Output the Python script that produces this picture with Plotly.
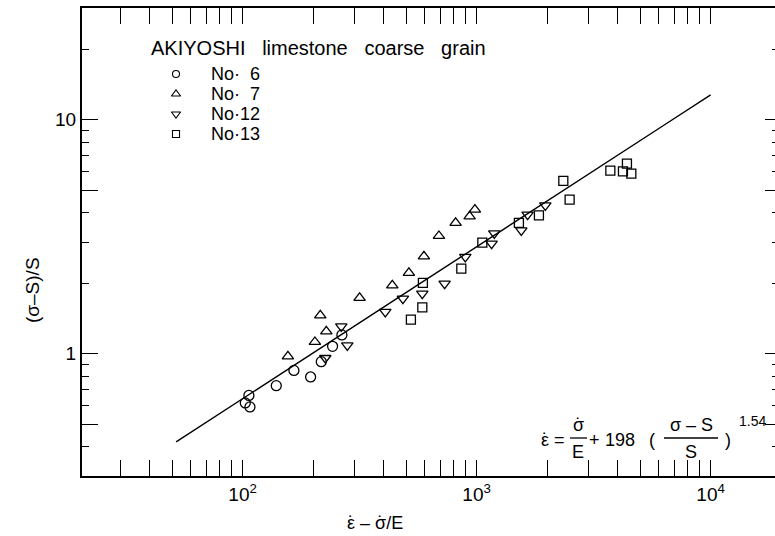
import numpy as np
import plotly.graph_objects as go

# ---- measured data: x = eps_dot - sigma_dot/E, y = (sigma - S)/S ----
no6_x = [106.4, 102.7, 107.5, 139.3, 165.7, 195.3, 216.9, 242.4, 265.7]
no6_y = [0.663, 0.616, 0.592, 0.730, 0.848, 0.795, 0.924, 1.075, 1.202]

no7_x = [156.2, 203.7, 214.8, 227.9, 316.2, 436.2, 513.6, 595.5, 690.2, 813.4, 933.4, 983.4]
no7_y = [0.974, 1.122, 1.458, 1.245, 1.730, 1.958, 2.213, 2.605, 3.184, 3.619, 3.863, 4.125]

no12_x = [225.6, 264.1, 280.2, 407.2, 484.2, 586.1, 729.8, 894.7, 1159, 1190, 1552, 1652, 1966]
no12_y = [0.958, 1.308, 1.085, 1.507, 1.718, 1.805, 1.991, 2.590, 2.952, 3.267, 3.365, 3.927, 4.303]

no13_x = [523.8, 586.1, 589.5, 860.2, 1058, 1516, 1846, 2347, 2497, 3728, 4220, 4389, 4582]
no13_y = [1.398, 1.577, 2.005, 2.308, 2.981, 3.619, 3.899, 5.47, 4.551, 6.055, 6.013, 6.486, 5.877]

series_names = ["No·\u00a0\u00a06", "No·\u00a0\u00a07", "No·12", "No·13"]
series_symbols = ["circle-open", "triangle-up-open", "triangle-down-open", "square-open"]
series_sizes = [10, 10, 10, 9]
legend_sizes = [7, 8, 8, 7]

# fitted law: eps_dot = sigma_dot/E + A * ((sigma - S)/S)^n
A_coef = 198
n_exp = 1.54
fit_x_start, fit_x_end = 52, 1e4

# axis ticks: labelled decades, long unlabelled ticks at 5, short ticks elsewhere
x_decades = [100, 1000, 10000]
x_decade_text = ["10<sup>2</sup>", "10<sup>3</sup>", "10<sup>4</sup>"]
x_fives = [50, 500, 5000]
x_minor = [30, 40, 60, 70, 80, 90, 200, 300, 400, 600, 700, 800, 900,
           2000, 3000, 4000, 6000, 7000, 8000, 9000]
y_decades = [1, 10]
y_decade_text = ["1", "10"]
y_fives = [0.5, 5]
y_minor = [0.4, 0.6, 0.7, 0.8, 0.9, 2, 3, 4, 6, 7, 8, 9, 20]

FONT = "Liberation Sans, Arial, sans-serif"
W, H = 775, 536
ML, MR, MT, MB = 82, 0, 8, 60
PW, PH = W - ML - MR, H - MT - MB
X_RANGE = [np.log10(20) + 3 / 234, 4.275]
Y_RANGE = [np.log10(0.3), np.log10(30)]


def with_dot(ch, size):
    """Letter with a time-derivative dot drawn over it (dot kerned back onto the letter)."""
    adv = {"\u03b5": 0.446, "\u03c3": 0.617}[ch] * size
    dot = 0.333 * size
    back = (adv - dot) / 2 - adv
    return (f"<span style='letter-spacing:{back:.1f}px'>{ch}</span>"
            f"<span style='letter-spacing:{adv + back:.1f}px'>\u02d9</span>")


def px(x):
    return (x - ML) / PW


def py(y):
    return (H - MB - y) / PH


fig = go.Figure()

data = [(no6_x, no6_y), (no7_x, no7_y), (no12_x, no12_y), (no13_x, no13_y)]
for (xs, ys), name, sym, sz in zip(data, series_names, series_symbols, series_sizes):
    fig.add_trace(go.Scatter(
        x=xs, y=ys, mode="markers", name=name, showlegend=False,
        marker=dict(symbol=sym, size=sz, color="black", line=dict(width=1.3)),
    ))

fit_x = np.logspace(np.log10(fit_x_start), np.log10(fit_x_end), 200)
fit_y = (fit_x / A_coef) ** (1.0 / n_exp)
fig.add_trace(go.Scatter(x=fit_x, y=fit_y, mode="lines", showlegend=False,
                         line=dict(color="black", width=1.4)))

# legend key symbols on a pixel-based helper axis
leg_x0, leg_y0, leg_dy = 176, 74, 20
for i, (sym, sz) in enumerate(zip(series_symbols, legend_sizes)):
    fig.add_trace(go.Scatter(
        x=[leg_x0], y=[leg_y0 + i * leg_dy], xaxis="x2", yaxis="y2",
        mode="markers", showlegend=False, hoverinfo="skip",
        marker=dict(symbol=sym, size=sz, color="black", line=dict(width=1.1)),
    ))

# empty traces so that the extra tick axes are laid out
for xa, ya in [("x3", "y"), ("x", "y3"), ("x", "y4")]:
    fig.add_trace(go.Scatter(x=[None], y=[None], xaxis=xa, yaxis=ya,
                             showlegend=False, hoverinfo="skip"))

tick_font = dict(family=FONT, size=19, color="black")


def minor(vals, length):
    return dict(tickmode="array", tickvals=vals, ticks="inside", ticklen=length,
                tickwidth=1.1, tickcolor="black", showgrid=False)


def tick_axis(**kw):
    base = dict(type="log", showgrid=False, zeroline=False, ticks="inside",
                tickwidth=1.3, tickcolor="black", tickmode="array", fixedrange=True)
    base.update(kw)
    return base


fig.update_layout(
    width=W, height=H,
    margin=dict(l=ML, r=MR, t=MT, b=MB, pad=0),
    paper_bgcolor="white", plot_bgcolor="white",
    xaxis=tick_axis(range=X_RANGE, showline=True, linecolor="black", linewidth=2,
                    mirror="allticks", ticklen=16, tickvals=x_decades,
                    ticktext=x_decade_text, tickfont=tick_font, minor=minor(x_minor, 7)),
    xaxis3=tick_axis(range=X_RANGE, overlaying="x", anchor="y", side="bottom",
                     showline=True, linecolor="black", linewidth=2, mirror="allticks",
                     ticklen=16, tickvals=x_fives, showticklabels=False),
    yaxis=tick_axis(range=Y_RANGE, showline=True, linecolor="black", linewidth=2,
                    mirror=False, ticklen=16, tickvals=y_decades, ticktext=y_decade_text,
                    tickfont=tick_font, minor=minor(y_minor, 7)),
    yaxis4=tick_axis(range=Y_RANGE, overlaying="y", anchor="x", side="left",
                     showline=False, ticklen=16, tickvals=y_fives, showticklabels=False),
    # right-hand frame ticks (the frame line itself lies just past the page edge)
    yaxis3=tick_axis(range=Y_RANGE, overlaying="y", anchor="free", position=1,
                     side="right", showline=False, showticklabels=False, ticklen=10,
                     tickvals=y_decades + y_fives, minor=minor(y_minor, 3)),
    xaxis2=dict(overlaying="x", range=[ML, W - MR], visible=False, fixedrange=True),
    yaxis2=dict(overlaying="y", range=[H - MB, MT], visible=False, fixedrange=True),
    showlegend=False,
)

ann = []


def text(x, y, s, size=18, xanchor="center", yanchor="middle", angle=0):
    ann.append(dict(x=px(x), y=py(y), xref="paper", yref="paper", text=s,
                    showarrow=False, xanchor=xanchor, yanchor=yanchor, textangle=angle,
                    font=dict(family=FONT, size=size, color="black")))


# legend title and entries
gap = "\u00a0" * 3
text(149, 48, gap.join(["AKIYOSHI", "limestone", "coarse", "grain"]), size=20, xanchor="left")
for i, name in enumerate(series_names):
    text(209, leg_y0 + i * leg_dy, name, size=18, xanchor="left")

# axis titles
fx = 18
text(375, 523, f"{with_dot(chr(0x3b5), fx)} \u2013 {with_dot(chr(0x3c3), fx)}/E", size=fx)
text(32, 290, "(\u03c3\u2013S)/S", size=19, angle=-90)

# fitted-law formula
fs = 18
text(545, 440, with_dot("\u03b5", fs), size=fs)
text(559, 440, "=", size=fs)
text(578, 425, with_dot("\u03c3", fs), size=fs)
text(578, 452, "E", size=fs)
text(594, 440, "+", size=fs)
text(620, 440, str(A_coef), size=fs)
text(652, 440, "(", size=fs)
text(691, 425, "\u03c3 \u2013 S", size=fs)
text(691, 452, "S", size=fs)
text(728, 440, ")", size=fs)
text(752, 421, f"{n_exp:.2f}", size=14)
fig.update_layout(annotations=ann)

bars = [(570, 587), (664, 718)]
fig.update_layout(shapes=[
    dict(type="line", xref="paper", yref="paper", x0=px(a), x1=px(b), y0=py(438), y1=py(438),
         line=dict(color="black", width=1.3)) for a, b in bars
])

fig.write_html("out.html")
